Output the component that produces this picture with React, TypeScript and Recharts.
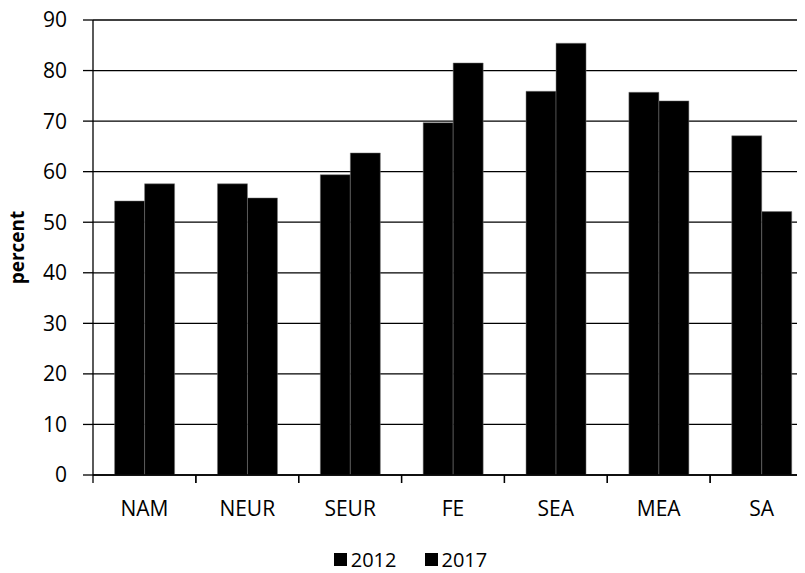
import React from 'react';
import { BarChart, Bar, XAxis, YAxis, CartesianGrid, Legend } from 'recharts';

const categories = ['NAM', 'NEUR', 'SEUR', 'FE', 'SEA', 'MEA', 'SA'];
const values2012 = [54.2, 57.6, 59.4, 69.7, 75.9, 75.7, 67.1];
const values2017 = [57.6, 54.8, 63.7, 81.5, 85.4, 74.0, 52.1];
const yTicks = [0, 10, 20, 30, 40, 50, 60, 70, 80, 90];

const data = categories.map((c, i) => ({ cat: c, y2012: values2012[i], y2017: values2017[i] }));

const FONT = '"Open Sans", sans-serif';
const TICK_MARGIN = 26;

const CatTick = (props: any) => {
  const { x, y, payload } = props;
  const half = payload && payload.offset ? payload.offset : 0;
  const axisY = y - TICK_MARGIN;
  return (
    <g>
      <line x1={x - half} x2={x - half} y1={axisY} y2={axisY + 8} stroke="#000" strokeWidth={1.3} />
      <line x1={x + half} x2={x + half} y1={axisY} y2={axisY + 8} stroke="#000" strokeWidth={1.3} />
      <text x={x} y={y} dy="0.71em" textAnchor="middle" fill="#000" fontSize={21} fontFamily={FONT}>
        {payload.value}
      </text>
    </g>
  );
};

const LegendContent = () => (
  <div style={{ display: 'flex', justifyContent: 'center', alignItems: 'center', height: 28, fontFamily: FONT, fontSize: 20, color: '#000' }}>
    {['2012', '2017'].map((k, i) => (
      <span key={k} style={{ display: 'flex', alignItems: 'center', marginLeft: i ? 28 : 0 }}>
        <span style={{ display: 'inline-block', width: 13, height: 13, background: '#000', marginRight: 4 }} />
        <span>{k}</span>
      </span>
    ))}
  </div>
);

export default function App() {
  return (
    <div style={{ width: 838, height: 573, margin: '-8px 0 0 -8px' }}>
      <style>{'html,body{overflow:hidden;}'}</style>
      <BarChart width={838} height={573} data={data} margin={{ top: 20, right: 25, bottom: 0, left: 8 }} barCategoryGap="21%" barGap={0}>
        <CartesianGrid vertical={false} stroke="#000" strokeWidth={1.3} />
        <XAxis dataKey="cat" height={70} axisLine={{ stroke: '#000', strokeWidth: 1.3 }} tickLine={false} tickSize={0} tickMargin={TICK_MARGIN} tick={<CatTick />} interval={0} />
        <YAxis domain={[0, 90]} ticks={yTicks} width={85} tickSize={10} tickMargin={16} axisLine={{ stroke: '#000', strokeWidth: 1.3 }} tickLine={{ stroke: '#000', strokeWidth: 1.3 }} tick={{ fill: '#000', fontSize: 21, fontFamily: FONT }} label={{ value: 'percent', angle: -90, position: 'center', dx: -33, style: { fontWeight: 'bold', fontSize: 19, fontFamily: FONT, fill: '#000' } }} />
        <Legend verticalAlign="bottom" content={<LegendContent />} />
        <Bar dataKey="y2012" fill="#000" stroke="#777" strokeWidth={0.5} isAnimationActive={false} />
        <Bar dataKey="y2017" fill="#000" stroke="#777" strokeWidth={0.5} isAnimationActive={false} />
      </BarChart>
    </div>
  );
}
